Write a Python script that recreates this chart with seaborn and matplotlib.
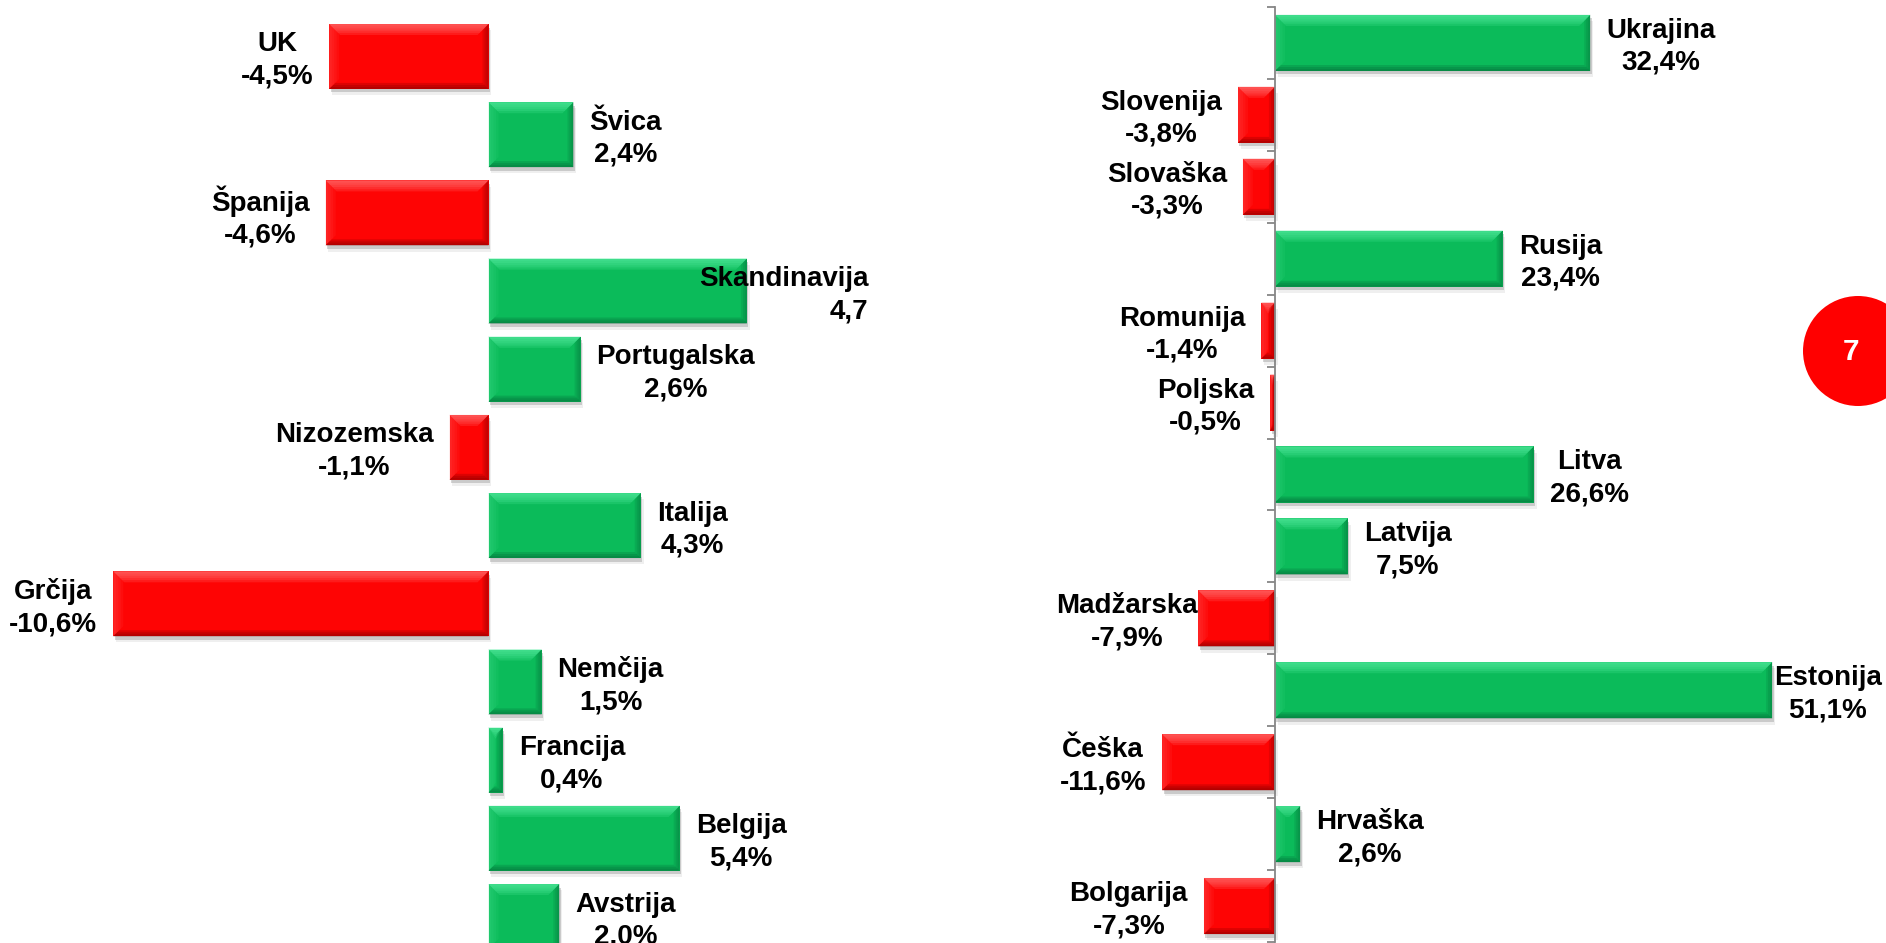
import numpy as np
import pandas as pd
import matplotlib
matplotlib.use("Agg")
from matplotlib import pyplot as plt
from matplotlib import patheffects
from matplotlib.patches import Polygon, Ellipse
import seaborn as sns

# left panel (western Europe)
west_countries = ["UK", "Švica", "Španija", "Skandinavija", "Portugalska", "Nizozemska",
                  "Italija", "Grčija", "Nemčija", "Francija", "Belgija", "Avstrija"]
west_values = [-4.5, 2.4, -4.6, 7.3, 2.6, -1.1, 4.3, -10.6, 1.5, 0.4, 5.4, 2.0]
west_labels = ["-4,5%", "2,4%", "-4,6%", "4,7", "2,6%", "-1,1%",
               "4,3%", "-10,6%", "1,5%", "0,4%", "5,4%", "2,0%"]

# right panel (central / eastern Europe)
east_countries = ["Ukrajina", "Slovenija", "Slovaška", "Rusija", "Romunija", "Poljska", "Litva",
                  "Latvija", "Madžarska", "Estonija", "Češka", "Hrvaška", "Bolgarija"]
east_values = [32.4, -3.8, -3.3, 23.4, -1.4, -0.5, 26.6, 7.5, -7.9, 51.1, -11.6, 2.6, -7.3]
east_labels = ["32,4%", "-3,8%", "-3,3%", "23,4%", "-1,4%", "-0,5%", "26,6%",
               "7,5%", "-7,9%", "51,1%", "-11,6%", "2,6%", "-7,3%"]

slide_number = "7"

DPI = 100
GREEN, GREEN_LIGHT, GREEN_DARK = "#0BBB5A", "#5BF0A5", "#05703A"
RED, RED_LIGHT, RED_DARK = "#FE0404", "#FF7A7A", "#8A0000"
GAP = 16  # px between bar end and label

sns.set_style("white")
plt.rcParams["font.family"] = ["Liberation Sans", "DejaVu Sans"]


def bevel(ax, bar, light, dark):
    """Fake PowerPoint bevel: soft light top/left edge, dark bottom/right edge."""
    x, y, w, h = bar.get_x(), bar.get_y(), bar.get_width(), bar.get_height()
    pts = ax.transData.transform([(x, y), (x + w, y + h)])
    left, right = sorted(pts[:, 0])
    low, high = sorted(pts[:, 1])
    half = (right - left) / 2
    inv = ax.transData.inverted()

    def add(poly, color, alpha):
        ax.add_patch(Polygon(inv.transform(poly), closed=True, facecolor=color,
                             edgecolor="none", alpha=alpha, zorder=2))

    # (side, depth px, layers, colour, alpha per layer)
    for side, depth, k, color, a in [("top", 11, 5, light, 0.2), ("left", 10, 4, light, 0.08),
                                     ("bottom", 6, 3, dark, 0.28), ("right", 6, 3, dark, 0.2)]:
        for j in range(k):
            d = depth * (j + 1) / k
            dx = min(d, half)
            if side == "top":
                poly = [(left, high), (right, high), (right - dx, high - d), (left + dx, high - d)]
            elif side == "bottom":
                poly = [(left, low), (right, low), (right - dx, low + d), (left + dx, low + d)]
            elif side == "left":
                poly = [(left, low), (left, high), (left + dx, high - d), (left + dx, low + d)]
            else:
                poly = [(right, low), (right, high), (right - dx, high - d), (right - dx, low + d)]
            add(poly, color, a)


def draw_panel(ax, countries, values, labels, bar_width, xlim, special):
    colors = [GREEN if v >= 0 else RED for v in values]
    df = pd.DataFrame({"country": countries, "value": values})
    sns.barplot(data=df, x="value", y="country", hue="country", palette=colors, orient="h",
                width=bar_width, saturation=1, legend=False, linewidth=0, ax=ax)
    ax.set_xlim(*xlim)
    ax.set_ylim(len(countries) - 0.5, -0.5)
    ax.set_xlabel("")
    ax.set_ylabel("")

    bars = list(ax.patches)
    for bar, v in zip(bars, values):
        bar.set_path_effects([
            patheffects.SimplePatchShadow(offset=(2, -4.5), shadow_rgbFace="#999999", alpha=0.15),
            patheffects.SimplePatchShadow(offset=(1, -2.5), shadow_rgbFace="#777777", alpha=0.3),
            patheffects.Normal()])
        if v >= 0:
            bevel(ax, bar, GREEN_LIGHT, GREEN_DARK)
        else:
            bevel(ax, bar, RED_LIGHT, RED_DARK)

    for i, (name, v, lab) in enumerate(zip(countries, values, labels)):
        if name in special:
            dx, ha = special[name]
        elif v >= 0:
            dx, ha = GAP, "left"
        else:
            dx, ha = -GAP, "right"
        ax.annotate(f"{name}\n{lab}", xy=(v, i), xytext=(dx * 72 / DPI, -4 * 72 / DPI),
                    textcoords="offset points", ha=ha, va="center", linespacing=1.3,
                    multialignment="right" if name == "Skandinavija" else "center",
                    fontsize=20, fontweight="bold", color="black", zorder=5)


fig = plt.figure(figsize=(18.86, 9.43), dpi=DPI)

ax1 = fig.add_axes([0.0, -0.01336, 0.45, 0.99491])
draw_panel(ax1, west_countries, west_values, west_labels, 0.83, (-13.8, 10.175),
           {"Skandinavija": (121.5, "right")})
ax1.set_axis_off()

ax2 = fig.add_axes([0.5, 0.00106, 0.5, 0.99152])
draw_panel(ax2, east_countries, east_values, east_labels, 0.78, (-34.12, 62.8),
           {"Madžarska": (0, "right"), "Estonija": (1.5, "left")})
for side in ["top", "right", "bottom"]:
    ax2.spines[side].set_visible(False)
ax2.spines["left"].set_position(("data", 0))
ax2.spines["left"].set_color("#868686")
ax2.spines["left"].set_linewidth(1.3)
ax2.set_yticks(np.arange(len(east_countries) + 1) - 0.5)
ax2.set_yticklabels([])
ax2.set_ylim(len(east_countries) - 0.5, -0.5)
ax2.set_xticks([])
ax2.tick_params(axis="y", direction="out", length=6, width=1.3, color="#868686", left=True)

# slide number badge
fig.add_artist(Ellipse((1858 / 1886, 1 - 351 / 943), 110 / 1886, 110 / 943,
                       transform=fig.transFigure, facecolor="#FF0000", edgecolor="none"))
fig.text(1851 / 1886, 1 - 352 / 943, slide_number, color="white", fontsize=21.5,
         fontweight="bold", ha="center", va="center")

fig.savefig("out.png", dpi=DPI, facecolor="white")
